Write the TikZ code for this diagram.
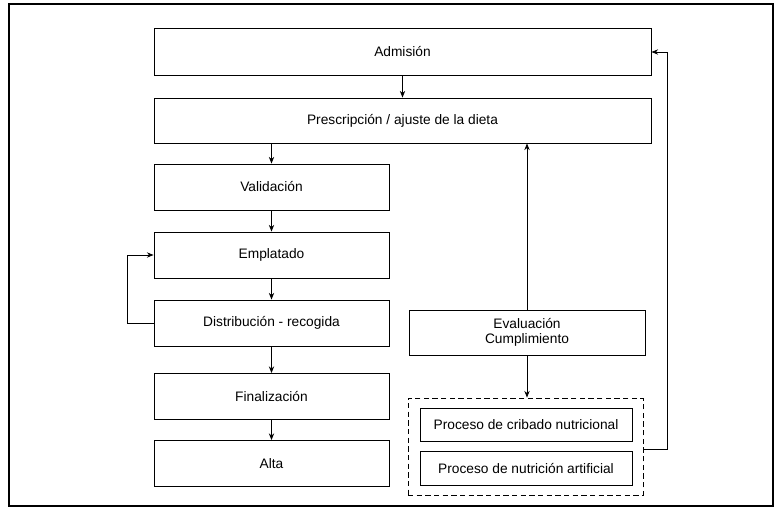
\documentclass[tikz,border=0pt]{standalone}
\usepackage{fontspec}
\setmainfont{Liberation Sans}
\usetikzlibrary{arrows.meta}
\begin{document}
\begin{tikzpicture}[x=0.75pt,y=-0.75pt,
  box/.style={draw, line width=0.7pt, rectangle, inner sep=0pt, align=center,
    font=\fontsize{10.3pt}{11.5pt}\selectfont},
  wide/.style={box, minimum width=372.75pt, minimum height=35pt},
  col/.style={box, minimum width=176.25pt, minimum height=34.5pt},
  small/.style={box, minimum width=159pt, minimum height=25pt},
  group/.style={draw, line width=0.7pt, dash pattern=on 4pt off 2.5pt, minimum width=176.25pt, minimum height=72.75pt, inner sep=0pt},
  conn/.style={line width=0.6pt, -{Stealth[length=5pt,width=4pt]}},
  frame/.style={line width=0.9pt}]
\useasboundingbox (0,0) rectangle (775,517);
\draw[frame] (9,4) rectangle (773,506);

\node[wide] (adm) at (402.5,52) {Admisión};
\node[wide, minimum height=33.75pt] (pre) at (402.5,120.5) {Prescripción / ajuste de la dieta};
\node[col] (val) at (271.5,187) {Validación};
\node[col] (emp) at (271.5,255) {Emplatado};
\node[col] (dis) at (271.5,323) {Distribución - recogida};
\node[col] (fin) at (271.5,396.5) {Finalización};
\node[col] (alt) at (271.5,463.5) {Alta};
\node[col, minimum width=177pt, minimum height=33.75pt] (eva) at (527,332.5) {Evaluación\\Cumplimiento};
\node[group] (grp) at (525.5,446.5) {};
\node[small] (cri) at (526,425) {Proceso de cribado nutricional};
\node[small] (nut) at (526,468.5) {Proceso de nutrición artificial};
\coordinate (rc) at (667,449);

\draw[conn] (adm.south) -- (pre.north);
\draw[conn] (pre.south -| val.north) -- (val.north);
\draw[conn] (val.south) -- (emp.north);
\draw[conn] (emp.south) -- (dis.north);
\draw[conn] (dis.south) -- (fin.north);
\draw[conn] (fin.south) -- (alt.north);
\draw[conn] (dis.west) -- ++(-26,0) |- (emp.west);
\draw[conn] (eva.north) -- (eva.north |- pre.south);
\draw[conn] (eva.south) -- (eva.south |- grp.north);
\draw[conn] (grp.east |- rc) -- (rc) |- (adm.east);
\end{tikzpicture}
\end{document}
